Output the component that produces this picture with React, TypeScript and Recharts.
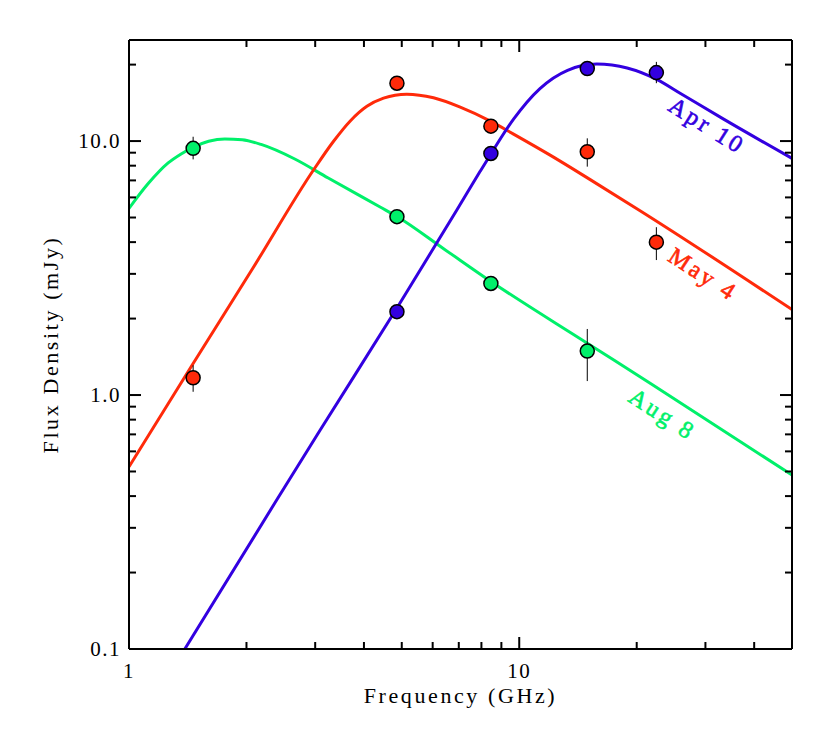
import React from 'react';
import { ComposedChart, Line, Scatter, ErrorBar, XAxis, YAxis, ReferenceDot } from 'recharts';

// measured flux densities (GHz, mJy), err = [minus, plus]
const APR10_OBS = [
  { f: 4.86, v: 2.13, err: [0.1, 0.1] },
  { f: 8.46, v: 8.94, err: [0.45, 0.45] },
  { f: 14.94, v: 19.3, err: [0.95, 0.95] },
  { f: 22.46, v: 18.6, err: [1.7, 1.9] },
];

const MAY4_OBS = [
  { f: 1.46, v: 1.17, err: [0.14, 0.14] },
  { f: 4.86, v: 16.9, err: [0.8, 0.8] },
  { f: 8.46, v: 11.45, err: [0.55, 0.55] },
  { f: 14.94, v: 9.08, err: [1.15, 1.17] },
  { f: 22.46, v: 4.0, err: [0.6, 0.58] },
];

const AUG8_OBS = [
  { f: 1.46, v: 9.36, err: [0.89, 1.04] },
  { f: 4.86, v: 5.04, err: [0.25, 0.25] },
  { f: 8.46, v: 2.75, err: [0.14, 0.14] },
  { f: 14.94, v: 1.49, err: [0.355, 0.33] },
];

// fitted spectra
const APR10_FIT = [
  { f: 1.39, v: 0.1 }, { f: 2.39, v: 0.386 }, { f: 3.09, v: 0.728 }, { f: 4.86, v: 2.2 },
  { f: 6.92, v: 5.35 }, { f: 7.94, v: 7.6 }, { f: 8.46, v: 8.9 }, { f: 9.67, v: 12.2 },
  { f: 11.3, v: 16.1 }, { f: 13.3, v: 19.0 }, { f: 15.8, v: 20.1 }, { f: 18.9, v: 19.4 },
  { f: 22.5, v: 17.5 }, { f: 25.9, v: 15.4 }, { f: 33.4, v: 12.2 }, { f: 50, v: 8.55 },
];

const MAY4_FIT = [
  { f: 1, v: 0.522 }, { f: 1.46, v: 1.33 }, { f: 2.08, v: 3.17 }, { f: 2.97, v: 7.69 },
  { f: 3.34, v: 9.96 }, { f: 3.69, v: 12.0 }, { f: 4.07, v: 13.7 }, { f: 4.49, v: 14.75 },
  { f: 5.15, v: 15.3 }, { f: 6.03, v: 14.8 }, { f: 7.06, v: 13.6 }, { f: 8.46, v: 11.95 },
  { f: 9.67, v: 10.65 }, { f: 12, v: 8.8 }, { f: 15.2, v: 7.05 }, { f: 20.4, v: 5.32 },
  { f: 50, v: 2.17 },
];

const AUG8_FIT = [
  { f: 1, v: 5.43 }, { f: 1.12, v: 6.8 }, { f: 1.26, v: 8.2 }, { f: 1.36, v: 8.9 },
  { f: 1.46, v: 9.45 }, { f: 1.6, v: 9.98 }, { f: 1.76, v: 10.2 }, { f: 1.95, v: 10.12 },
  { f: 2.18, v: 9.7 }, { f: 2.66, v: 8.5 }, { f: 3.24, v: 7.15 }, { f: 4.4, v: 5.5 },
  { f: 4.86, v: 5.05 }, { f: 6.4, v: 3.77 }, { f: 8.46, v: 2.8 }, { f: 14.94, v: 1.6 },
  { f: 21.7, v: 1.11 }, { f: 50, v: 0.484 },
];

const X_TICKS = [1, 2, 3, 4, 5, 6, 7, 8, 9, 10, 20, 30, 40];
const X_MAJOR = [1, 10];
const X_LABELS: Record<string, string> = { '1': '1', '10': '10' };

const Y_TICKS = [0.1, 0.2, 0.3, 0.4, 0.5, 0.6, 0.7, 0.8, 0.9, 1, 2, 3, 4, 5, 6, 7, 8, 9, 10, 20];
const Y_MAJOR = [0.1, 1, 10];
const Y_LABELS: Record<string, string> = { '0.1': '0.1', '1': '1.0', '10': '10.0' };

const BLUE = '#3300e0';
const RED = '#ff2a0a';
const GREEN = '#00f06a';
const FONT = '"Liberation Serif", serif';

// ticks point into the plot box, labels sit outside
function AxisTick(props: any) {
  const { x, y, payload, side } = props;
  const val = payload.value;
  const horiz = side === 'bottom' || side === 'top';
  const major = (horiz ? X_MAJOR : Y_MAJOR).includes(val);
  const len = major ? 12 : 7;
  let x2 = x, y2 = y;
  if (side === 'bottom') y2 = y - len;
  if (side === 'top') y2 = y + len;
  if (side === 'left') x2 = x + len;
  if (side === 'right') x2 = x - len;
  return (
    <g>
      <line x1={x} y1={y} x2={x2} y2={y2} stroke="#000" strokeWidth={2} />
      {side === 'bottom' && major && (
        <text x={x} y={y + 22} textAnchor="middle" dominantBaseline="central"
          fontFamily={FONT} fontSize={21} letterSpacing={1.5} fill="#000">{X_LABELS[String(val)]}</text>
      )}
      {side === 'left' && major && (
        <text x={x - 8} y={y} textAnchor="end" dominantBaseline="central"
          fontFamily={FONT} fontSize={21} letterSpacing={1.5} fill="#000">{Y_LABELS[String(val)]}</text>
      )}
    </g>
  );
}

const dot = (color: string) => (p: any) => (
  <circle cx={p.cx} cy={p.cy} r={7} fill={color} stroke="#000" strokeWidth={1.5} />
);

const noShape = () => <g />;

const curveLabel = (text: string, color: string, angle: number) => (p: any) => (
  <text x={p.cx} y={p.cy} transform={`rotate(${angle} ${p.cx} ${p.cy})`} textAnchor="middle"
    dominantBaseline="central" fontFamily={FONT} fontSize={24} letterSpacing={3}
    fill={color} stroke={color} strokeWidth={0.6}>{text}</text>
);

export default function App() {
  const axisLine = { stroke: '#000', strokeWidth: 2 };
  return (
    <ComposedChart width={814} height={715} margin={{ top: 31, right: 29, bottom: 0, left: 0 }}>
      <XAxis xAxisId="x" dataKey="f" type="number" scale="log" domain={[1, 50]} allowDataOverflow
        ticks={X_TICKS} interval={0} tickLine={false} tickSize={0} tickMargin={0} height={74}
        axisLine={axisLine} tick={(p: any) => <AxisTick {...p} side="bottom" />}
        label={(p: any) => (
          <text x={p.viewBox.x + p.viewBox.width / 2} y={p.viewBox.y + 46} textAnchor="middle"
            dominantBaseline="central" fontFamily={FONT} fontSize={22} letterSpacing={2.6} fill="#000">Frequency (GHz)</text>
        )} />
      <XAxis xAxisId="top" orientation="top" dataKey="f" type="number" scale="log" domain={[1, 50]}
        allowDataOverflow ticks={X_TICKS} interval={0} tickLine={false} tickSize={0} tickMargin={0}
        height={1} axisLine={axisLine} tick={(p: any) => <AxisTick {...p} side="top" />} />
      <YAxis yAxisId="y" dataKey="v" type="number" scale="log" domain={[0.1, 25]} allowDataOverflow
        ticks={Y_TICKS} interval={0} tickLine={false} tickSize={0} tickMargin={0} width={121}
        axisLine={axisLine} tick={(p: any) => <AxisTick {...p} side="left" />}
        label={(p: any) => {
          const cy = p.viewBox.y + p.viewBox.height / 2;
          return (
            <text x={42} y={cy} transform={`rotate(-90 42 ${cy})`} textAnchor="middle"
              dominantBaseline="central" fontFamily={FONT} fontSize={22} letterSpacing={2.6} fill="#000">Flux Density (mJy)</text>
          );
        }} />
      <YAxis yAxisId="right" orientation="right" dataKey="v" type="number" scale="log" domain={[0.1, 25]}
        allowDataOverflow ticks={Y_TICKS} interval={0} tickLine={false} tickSize={0} tickMargin={0}
        width={1} axisLine={axisLine} tick={(p: any) => <AxisTick {...p} side="right" />} />

      <Line xAxisId="x" yAxisId="y" data={AUG8_FIT} dataKey="v" type="monotone" stroke={GREEN}
        strokeWidth={3} dot={false} isAnimationActive={false} />
      <Line xAxisId="x" yAxisId="y" data={MAY4_FIT} dataKey="v" type="monotone" stroke={RED}
        strokeWidth={3} dot={false} isAnimationActive={false} />
      <Line xAxisId="x" yAxisId="y" data={APR10_FIT} dataKey="v" type="monotone" stroke={BLUE}
        strokeWidth={3} dot={false} isAnimationActive={false} />

      <Scatter xAxisId="x" yAxisId="y" data={AUG8_OBS} dataKey="v" shape={dot(GREEN)} isAnimationActive={false} />
      <Scatter xAxisId="x" yAxisId="y" data={MAY4_OBS} dataKey="v" shape={dot(RED)} isAnimationActive={false} />
      <Scatter xAxisId="x" yAxisId="y" data={APR10_OBS} dataKey="v" shape={dot(BLUE)} isAnimationActive={false} />

      {/* error bars drawn over the markers */}
      <Scatter xAxisId="x" yAxisId="y" data={AUG8_OBS} dataKey="v" shape={noShape} isAnimationActive={false}>
        <ErrorBar dataKey="err" direction="y" width={0} stroke="#000" strokeWidth={1} isAnimationActive={false} />
      </Scatter>
      <Scatter xAxisId="x" yAxisId="y" data={MAY4_OBS} dataKey="v" shape={noShape} isAnimationActive={false}>
        <ErrorBar dataKey="err" direction="y" width={0} stroke="#000" strokeWidth={1} isAnimationActive={false} />
      </Scatter>
      <Scatter xAxisId="x" yAxisId="y" data={APR10_OBS} dataKey="v" shape={noShape} isAnimationActive={false}>
        <ErrorBar dataKey="err" direction="y" width={0} stroke="#000" strokeWidth={1} isAnimationActive={false} />
      </Scatter>

      <ReferenceDot xAxisId="x" yAxisId="y" x={30.3} y={11.5} r={0} shape={curveLabel('Apr 10', BLUE, 32)} />
      <ReferenceDot xAxisId="x" yAxisId="y" x={29.6} y={2.99} r={0} shape={curveLabel('May 4', RED, 33)} />
      <ReferenceDot xAxisId="x" yAxisId="y" x={23.3} y={0.84} r={0} shape={curveLabel('Aug 8', GREEN, 33)} />
    </ComposedChart>
  );
}
